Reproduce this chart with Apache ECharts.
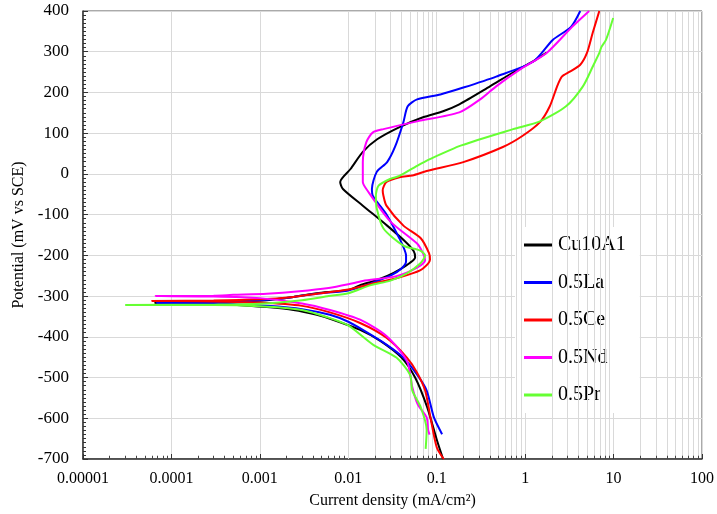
<!DOCTYPE html>
<html>
<head>
<meta charset="utf-8">
<script src="https://cdn.jsdelivr.net/npm/echarts@6/dist/echarts.min.js"></script>
<style>
html,body{margin:0;padding:0;background:#fff;}
#chart{width:717px;height:514px;}
</style>
</head>
<body>
<div id="chart"></div>
<script>
// current density (mA/cm2), potential (mV vs SCE), ordered along the scan
const seriesNames = ['Cu10A1', '0.5La', '0.5Ce', '0.5Nd', '0.5Pr'];
const seriesColors = ['#000000', '#0000ff', '#ff0000', '#ff00ff', '#66ff33'];

const cu10a1 = [[0.118,-700],[0.10,-652],[0.078,-573],[0.057,-500],[0.040,-451],[0.023,-410],[0.0136,-383],[0.0067,-358],[0.0044,-346],[0.0024,-334],[0.0012,-327],[0.0005,-321],[0.0002,-318],[0.000065,-317],
  [0.0002,-316],[0.0006,-313],[0.0012,-310],[0.0024,-302],[0.0044,-293],[0.01,-285],[0.0136,-273],[0.02,-262],[0.028,-250],[0.038,-235],[0.05,-218],[0.057,-205],[0.055,-190],[0.044,-166],[0.0275,-127],[0.0146,-78],[0.0087,-37],[0.0081,-20],[0.0106,12],[0.0146,54],[0.0212,85],[0.038,115],[0.07,139],[0.118,154],[0.18,171],[0.4,215],[0.73,249],[1.16,273],[1.75,298]];

const la05 = [[0.115,-639],[0.093,-598],[0.077,-532],[0.060,-493],[0.042,-451],[0.027,-419],[0.0146,-383],[0.01,-363],[0.0062,-346],[0.003,-332],[0.0012,-324],[0.0005,-320],[0.0002,-318],[0.000068,-317],
  [0.0002,-316],[0.0006,-313],[0.0012,-309],[0.0024,-302],[0.0044,-294],[0.01,-286],[0.0146,-276],[0.02,-265],[0.03,-250],[0.04,-232],[0.045,-215],[0.045,-200],[0.043,-185],[0.038,-159],[0.0275,-102],[0.019,-54],[0.0185,-37],[0.021,5],[0.0275,29],[0.034,68],[0.042,127],[0.047,166],[0.06,183],[0.11,195],[0.2,212],[0.47,239],[1.24,276],[2.05,329],[3.3,361],[4.2,400]];

const ce05 = [[0.12,-700],[0.10,-671],[0.085,-598],[0.074,-532],[0.06,-488],[0.046,-451],[0.027,-402],[0.0136,-366],[0.0062,-340],[0.003,-324],[0.001,-316],[0.0003,-313],[0.00006,-312],
  [0.0003,-311],[0.001,-308],[0.0024,-302],[0.0044,-294],[0.01,-284],[0.02,-268],[0.035,-256],[0.055,-243],[0.07,-232],[0.084,-210],[0.082,-195],[0.066,-158],[0.042,-127],[0.027,-78],[0.025,-54],[0.0245,-40],[0.027,-20],[0.038,-8],[0.053,-4],[0.077,7],[0.2,29],[0.56,66],[0.93,93],[1.47,127],[1.9,166],[2.3,215],[2.6,239],[3.2,251],[4.2,268],[5.0,297],[5.8,346],[6.9,400]];

const nd05 = [[0.083,-640],[0.08,-629],[0.077,-598],[0.061,-566],[0.053,-524],[0.046,-459],[0.027,-398],[0.0136,-358],[0.0062,-334],[0.003,-318],[0.001,-305],[0.0003,-301],[0.000066,-300],
  [0.0003,-299],[0.0005,-297],[0.0012,-294],[0.0028,-288],[0.006,-280],[0.01,-271],[0.0146,-263],[0.035,-251],[0.06,-230],[0.074,-212],[0.07,-195],[0.06,-171],[0.03,-117],[0.016,-37],[0.0146,-20],[0.0146,29],[0.016,78],[0.019,102],[0.025,110],[0.06,129],[0.18,151],[0.31,183],[0.47,215],[0.87,256],[1.75,297],[3.4,361],[5.3,400]];

const pr05 = [[0.075,-675],[0.077,-629],[0.066,-573],[0.053,-532],[0.050,-493],[0.035,-451],[0.019,-419],[0.01,-372],[0.0062,-354],[0.003,-334],[0.001,-325],[0.0003,-322],[0.00003,-322],
  [0.0003,-321],[0.001,-319],[0.003,-310],[0.006,-300],[0.01,-293],[0.018,-273],[0.03,-262],[0.046,-244],[0.065,-220],[0.074,-200],[0.065,-188],[0.042,-176],[0.025,-134],[0.021,-85],[0.0205,-54],[0.022,-29],[0.03,-12],[0.038,-5],[0.06,20],[0.085,37],[0.19,70],[0.73,110],[1.47,129],[2.9,166],[4.5,215],[5.8,263],[6.9,297],[7.3,312],[8.2,329],[9.9,383]];

const xTickLabels = ['0.00001', '0.0001', '0.001', '0.01', '0.1', '1', '10', '100'];
const xMinExp = -5, xMaxExp = 2;
const yMin = -700, yMax = 400, yStep = 100;

const allData = [cu10a1, la05, ce05, nd05, pr05];

// minor log gridline positions (2..9 x 10^k)
const minorVals = [];
for (let e = xMinExp; e < xMaxExp; e++) {
  for (let m = 2; m <= 9; m++) minorVals.push(m * Math.pow(10, e));
}

const FONT = '"Liberation Serif", "Times New Roman", serif';

const series = [];
series.push({
  type: 'line', data: [], silent: true, z: 1,
  markLine: {
    silent: true, symbol: 'none', label: {show: false},
    lineStyle: {color: '#d9d9d9', width: 1, type: 'solid'},
    data: minorVals.map(v => ({xAxis: v}))
  }
});
series.push({
  type: 'line', data: [], silent: true, z: 3,
  markLine: {
    silent: true, symbol: 'none', label: {show: false},
    lineStyle: {color: '#444', width: 1, type: 'solid'},
    data: minorVals.map(v => [{coord: [v, yMin]}, {coord: [v, yMin + 8]}])
  }
});
allData.forEach((d, i) => {
  series.push({
    name: seriesNames[i], type: 'line', data: d, showSymbol: false, smooth: 0.25,
    lineStyle: {color: seriesColors[i], width: 2}, itemStyle: {color: seriesColors[i]},
    z: 5
  });
});

const chart = echarts.init(document.getElementById('chart'), null, {renderer: 'canvas'});
chart.setOption({
  backgroundColor: '#fff',
  animation: false,
  grid: {left: 83, right: 15, top: 11, bottom: 52, show: true, borderColor: '#555', borderWidth: 1, backgroundColor: 'transparent'},
  legend: {
    data: seriesNames, orient: 'vertical', left: 515, top: 227, width: 113,
    backgroundColor: '#fff', padding: [8, 14, 8, 9], itemGap: 17.5,
    icon: 'rect', itemWidth: 29, itemHeight: 3,
    textStyle: {fontFamily: FONT, fontSize: 20, color: '#000'}
  },
  xAxis: {
    type: 'log', logBase: 10, min: Math.pow(10, xMinExp), max: Math.pow(10, xMaxExp), splitNumber: 7,
    name: 'Current density (mA/cm²)', nameLocation: 'middle', nameGap: 34,
    nameTextStyle: {fontFamily: FONT, fontSize: 16, color: '#000'},
    axisLine: {show: true, onZero: false, lineStyle: {color: '#333', width: 1.5}},
    axisTick: {show: true, inside: true, length: 5, lineStyle: {color: '#333'}},
    axisLabel: {
      fontFamily: FONT, fontSize: 16, color: '#000', margin: 12,
      formatter: v => xTickLabels[Math.round(Math.log10(v)) - xMinExp]
    },
    splitLine: {show: true, lineStyle: {color: '#d9d9d9', width: 1}}
  },
  yAxis: {
    type: 'value', min: yMin, max: yMax, interval: yStep,
    name: 'Potential (mV vs SCE)', nameLocation: 'middle', nameGap: 49,
    nameTextStyle: {fontFamily: FONT, fontSize: 16, color: '#000'},
    axisLine: {show: true, onZero: false, lineStyle: {color: '#333', width: 1.5}},
    axisTick: {show: true, inside: true, length: 5, lineStyle: {color: '#333'}},
    minorTick: {show: true, splitNumber: 10, length: 3, lineStyle: {color: '#333'}},
    axisLabel: {fontFamily: FONT, fontSize: 17, color: '#000', margin: 14},
    splitLine: {show: true, lineStyle: {color: '#d9d9d9', width: 1}}
  },
  series: series
});
</script>
</body>
</html>
